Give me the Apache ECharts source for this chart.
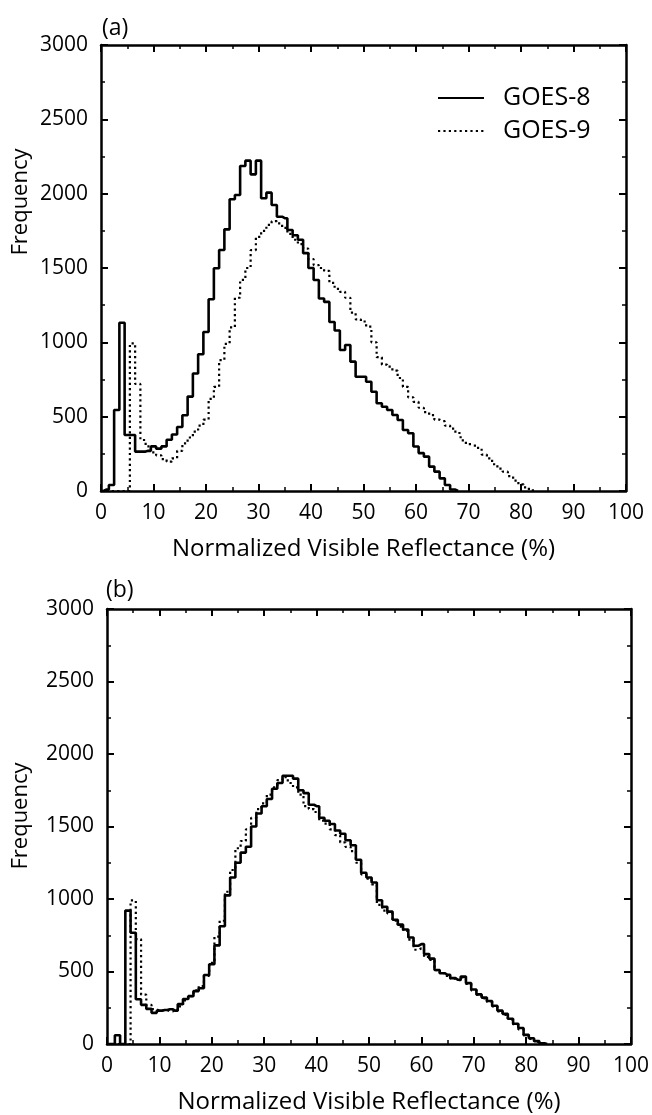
<!DOCTYPE html>
<html>
<head>
<meta charset="utf-8">
<script src="https://cdn.jsdelivr.net/npm/echarts@6/dist/echarts.min.js"></script>
<style>
html,body{margin:0;padding:0;background:#fff;}
#chart{width:652px;height:1115px;}
</style>
</head>
<body>
<div id="chart"></div>
<script>
// Histogram bin centers are 0,1,2,... (% reflectance); values are frequencies.
var goes8A = [0,10,40,545,1132,377,377,265,265,270,300,285,300,345,380,430,510,635,790,920,1070,1290,1498,1621,1760,1962,1991,2186,2222,2130,2222,1969,2007,1924,1845,1835,1756,1720,1690,1600,1500,1419,1295,1272,1137,1080,948,982,870,769,769,735,668,590,567,545,511,478,410,388,299,255,231,164,130,85,40,10,0];
var goes9A = [0,0,0,0,0,0,993,720,343,300,260,240,215,197,220,270,320,360,400,440,480,620,700,880,990,1100,1300,1420,1500,1620,1710,1750,1790,1815,1800,1770,1730,1690,1660,1630,1560,1520,1500,1480,1400,1360,1340,1300,1200,1155,1140,1105,1000,900,850,836,810,760,700,630,600,560,530,510,480,470,440,420,390,340,315,305,290,245,220,180,150,130,100,70,45,25,5,0];
var goes8B = [0,0,60,0,920,767,309,270,242,215,230,235,240,230,275,310,330,365,385,476,550,680,812,1025,1148,1250,1320,1360,1500,1590,1640,1690,1760,1800,1850,1850,1830,1750,1730,1650,1640,1560,1540,1517,1472,1450,1405,1371,1271,1181,1148,1114,991,946,913,857,823,790,734,678,689,620,589,510,488,477,454,443,465,420,376,342,320,297,264,230,208,174,140,110,63,40,20,5,0];
var goes9B = [0,0,0,0,0,990,723,340,270,240,230,235,225,230,260,300,330,370,400,470,560,740,850,1050,1200,1350,1400,1480,1560,1620,1660,1720,1770,1820,1840,1800,1770,1720,1640,1620,1600,1540,1520,1480,1440,1390,1360,1330,1250,1170,1140,1100,960,920,900,850,810,780,720,650,660,600,580,510,488,470,450,440,460,415,370,340,315,290,260,225,200,170,135,100,60,35,15,5,0];
var seriesNames = ['GOES-8','GOES-9'];
var panelLabels = ['(a)','(b)'];
var xTitle = 'Normalized Visible Reflectance (%)';
var yTitle = 'Frequency';

var FONT = 'Open Sans';
var chart = echarts.init(document.getElementById('chart'), null, {renderer:'canvas'});
function pairs(arr){ return arr.map(function(v,i){ return [i, v]; }); }
function plain(v){ return String(v); }

var grids = [
  {left:101, top:45, width:525, height:446},
  {left:107, top:609, width:525, height:447}
];

function xAx(g, pos, labels){
  return {
    gridIndex:g, type:'value', min:0, max:100, interval:10, position:pos,
    axisLine:{show:true, onZero:false, lineStyle:{color:'#000', width:2.5}},
    axisTick:{show:true, inside:true, length:7, lineStyle:{color:'#000', width:2}},
    minorTick:{show:true, splitNumber:2, length:4, lineStyle:{color:'#000', width:1.5}},
    splitLine:{show:false}, minorSplitLine:{show:false},
    axisLabel:{show:labels, fontFamily:FONT, fontSize:21, color:'#000', margin:12, formatter:plain},
    name: labels ? xTitle : '', nameLocation:'middle', nameGap:46,
    nameTextStyle:{fontFamily:FONT, fontSize:24, color:'#000'}
  };
}
function yAx(g, pos, labels){
  return {
    gridIndex:g, type:'value', min:0, max:3000, interval:500, position:pos,
    axisLine:{show:true, onZero:false, lineStyle:{color:'#000', width:2.5}},
    axisTick:{show:true, inside:true, length:7, lineStyle:{color:'#000', width:2}},
    minorTick:{show:true, splitNumber:2, length:4, lineStyle:{color:'#000', width:1.5}},
    splitLine:{show:false}, minorSplitLine:{show:false},
    axisLabel:{show:labels, fontFamily:FONT, fontSize:21, color:'#000', margin:13, formatter:plain}
  };
}
function ser(name, data, xi, yi, dotted){
  return {
    name:name, type:'line', step:'middle', xAxisIndex:xi, yAxisIndex:yi,
    data:pairs(data), symbol:'none', showSymbol:false, silent:true,
    lineStyle:{color:'#000', width: dotted ? 2.2 : 2.6, type: dotted ? [2.2, 3.2] : 'solid'},
    itemStyle:{color:'#000'}, z: dotted ? 2 : 3
  };
}

var option = {
  animation:false,
  backgroundColor:'#fff',
  grid:grids,
  xAxis:[xAx(0,'bottom',true), xAx(0,'top',false), xAx(1,'bottom',true), xAx(1,'top',false)],
  yAxis:[yAx(0,'left',true), yAx(0,'right',false), yAx(1,'left',true), yAx(1,'right',false)],
  legend:{
    data:seriesNames, orient:'vertical', left:437, top:85, padding:0,
    itemWidth:46, itemHeight:14, itemGap:7, selectedMode:false,
    itemStyle:{color:'rgba(0,0,0,0)', borderWidth:0, opacity:0},
    textStyle:{fontFamily:FONT, fontSize:25, color:'#000', lineHeight:26, padding:[0,0,0,14]}
  },
  series:[
    ser(seriesNames[1], goes9A, 0, 0, true),
    ser(seriesNames[0], goes8A, 0, 0, false),
    ser(seriesNames[1], goes9B, 2, 2, true),
    ser(seriesNames[0], goes8B, 2, 2, false)
  ],
  graphic:[
    {type:'text', x:102, y:28, style:{text:panelLabels[0], font:'23px "Open Sans"', fill:'#000', textVerticalAlign:'middle'}},
    {type:'text', x:106, y:590, style:{text:panelLabels[1], font:'23px "Open Sans"', fill:'#000', textVerticalAlign:'middle'}},
    {type:'text', x:21, y:202, rotation:Math.PI/2, style:{text:yTitle, font:'22px "Open Sans"', fill:'#000', textAlign:'center', textVerticalAlign:'middle'}},
    {type:'text', x:21, y:816, rotation:Math.PI/2, style:{text:yTitle, font:'22px "Open Sans"', fill:'#000', textAlign:'center', textVerticalAlign:'middle'}}
  ]
};
chart.setOption(option);
</script>
</body>
</html>
